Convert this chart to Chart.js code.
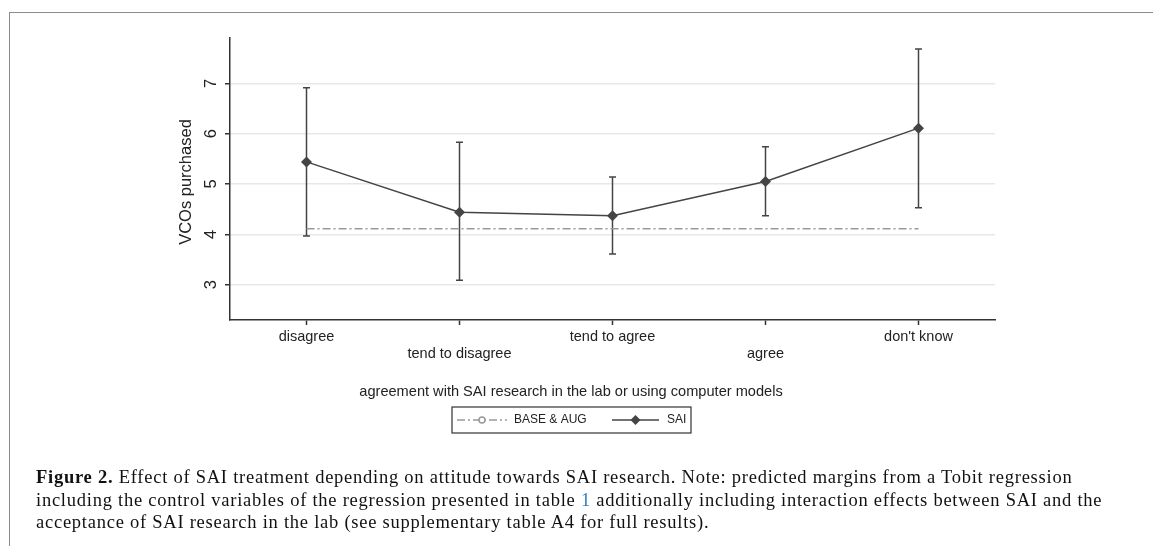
<!DOCTYPE html>
<html>
<head>
<meta charset="utf-8">
<script src="https://cdn.jsdelivr.net/npm/chart.js@4.4.0/dist/chart.umd.min.js"></script>
<style>
  html, body { margin: 0; padding: 0; background: #fff; }
  #wrap { position: relative; width: 1153px; height: 546px; overflow: hidden; }
  #frame { position: absolute; left: 9px; top: 12px; width: 1200px; height: 600px;
           border-top: 1.5px solid #8c8c8c; border-left: 1.5px solid #8c8c8c; }
  #box { position: absolute; left: 0; top: 0; width: 1153px; height: 546px; }
  #caption { position: absolute; left: 36px; top: 466px; font-family: "Liberation Serif", "Times New Roman", serif;
             font-size: 18.5px; letter-spacing: 0.75px; line-height: 22.5px; color: #111; white-space: nowrap; }
  #caption b { font-weight: bold; }
  #caption .ref { color: #2a7fc1; }
</style>
</head>
<body>
<div id="wrap">
  <div id="frame"></div>
  <div id="box"><canvas id="chart"></canvas></div>
  <div id="caption">
    <b>Figure 2.</b> Effect of SAI treatment depending on attitude towards SAI research. Note: predicted margins from a Tobit regression<br>
    including the control variables of the regression presented in table <span class="ref">1</span> additionally including interaction effects between SAI and the<br>
    acceptance of SAI research in the lab (see supplementary table A4 for full results).
  </div>
</div>
<script>
const categories = ["disagree", "tend to disagree", "tend to agree", "agree", "don't know"];
const saiValues = [5.44, 4.44, 4.37, 5.05, 6.11];
const saiLower = [3.97, 3.09, 3.61, 4.37, 4.53];
const saiUpper = [6.91, 5.83, 5.14, 5.74, 7.68];
const baseValues = [4.11, 4.11, 4.11, 4.11, 4.11];
const yTicks = [3, 4, 5, 6, 7];

const textColor = "#222";
const darkGray = "#444";

Chart.defaults.font.family = "'Liberation Sans', Arial, sans-serif";
Chart.defaults.color = textColor;

// error bars for the SAI series
const errorBars = {
    id: "errorBars",
    beforeDatasetsDraw(chart) {
        const ctx = chart.ctx;
        const y = chart.scales.y;
        const meta = chart.getDatasetMeta(1);
        ctx.save();
        ctx.strokeStyle = darkGray;
        ctx.lineWidth = 1.5;
        meta.data.forEach((pt, i) => {
            const yl = y.getPixelForValue(saiLower[i]);
            const yu = y.getPixelForValue(saiUpper[i]);
            ctx.beginPath();
            ctx.moveTo(pt.x, yl); ctx.lineTo(pt.x, yu);
            ctx.moveTo(pt.x - 3.5, yl); ctx.lineTo(pt.x + 3.5, yl);
            ctx.moveTo(pt.x - 3.5, yu); ctx.lineTo(pt.x + 3.5, yu);
            ctx.stroke();
        });
        ctx.restore();
    }
};

// rotated y labels, axis titles and the boxed legend
const extras = {
    id: "extras",
    afterDraw(chart) {
        const ctx = chart.ctx;
        const y = chart.scales.y;
        ctx.save();
        ctx.fillStyle = textColor;
        ctx.textAlign = "center";
        ctx.textBaseline = "middle";

        ctx.font = "16.5px 'Liberation Sans', Arial";
        yTicks.forEach(v => {
            ctx.save();
            ctx.translate(211, y.getPixelForValue(v));
            ctx.rotate(-Math.PI / 2);
            ctx.fillText(String(v), 0, 0);
            ctx.restore();
        });

        ctx.save();
        ctx.font = "16.5px 'Liberation Sans', Arial";
        ctx.translate(186, (chart.chartArea.top + chart.chartArea.bottom) / 2 + 3);
        ctx.rotate(-Math.PI / 2);
        ctx.fillText("VCOs purchased", 0, 0);
        ctx.restore();

        const cx = 571;
        ctx.font = "14.6px 'Liberation Sans', Arial";
        ctx.fillText("agreement with SAI research in the lab or using computer models", cx, 392);

        // legend
        ctx.strokeStyle = "#333";
        ctx.lineWidth = 1.2;
        ctx.strokeRect(cx - 119, 407, 239, 26);
        const ly = 420;
        const base = chart.data.datasets[0];
        const sai = chart.data.datasets[1];
        ctx.lineWidth = 1.5;
        ctx.strokeStyle = base.borderColor;
        ctx.setLineDash(base.borderDash);
        ctx.beginPath(); ctx.moveTo(cx - 114, ly); ctx.lineTo(cx - 64, ly); ctx.stroke();
        ctx.setLineDash([]);
        ctx.fillStyle = "#fff";
        ctx.beginPath(); ctx.arc(cx - 89, ly, 3, 0, Math.PI * 2); ctx.fill(); ctx.stroke();

        ctx.strokeStyle = sai.borderColor;
        ctx.beginPath(); ctx.moveTo(cx + 41, ly); ctx.lineTo(cx + 88, ly); ctx.stroke();
        ctx.fillStyle = sai.backgroundColor;
        ctx.beginPath();
        ctx.moveTo(cx + 64.5, ly - 5); ctx.lineTo(cx + 69.5, ly); ctx.lineTo(cx + 64.5, ly + 5); ctx.lineTo(cx + 59.5, ly);
        ctx.closePath(); ctx.fill();

        ctx.fillStyle = textColor;
        ctx.textAlign = "left";
        ctx.font = "12px 'Liberation Sans', Arial";
        ctx.fillText(base.label, cx - 57, ly);
        ctx.fillText(sai.label, cx + 96, ly);
        ctx.restore();
    }
};

new Chart(document.getElementById("chart"), {
    type: "line",
    data: {
        labels: categories,
        datasets: [
            {
                label: "BASE & AUG",
                data: baseValues,
                borderColor: "#999",
                borderWidth: 1.5,
                borderDash: [8, 3, 2, 3],
                pointRadius: 0,
                fill: false
            },
            {
                label: "SAI",
                data: saiValues,
                borderColor: darkGray,
                backgroundColor: darkGray,
                borderWidth: 1.5,
                pointStyle: "rectRot",
                pointRadius: 5.5,
                pointBorderWidth: 0,
                fill: false
            }
        ]
    },
    options: {
        responsive: true,
        maintainAspectRatio: false,
        animation: false,
        layout: { padding: { left: 0, top: 38, right: 158, bottom: 146 } },
        plugins: { legend: { display: false }, tooltip: { enabled: false } },
        scales: {
            x: {
                type: "category",
                offset: true,
                afterFit: s => { s.height = 80; },
                border: { color: "#333", width: 1.5 },
                grid: { drawOnChartArea: false, drawTicks: true, tickLength: 5, tickColor: "#333", tickWidth: 1.5, offset: false },
                ticks: {
                    autoSkip: false,
                    maxRotation: 0,
                    padding: 3,
                    color: textColor,
                    font: { size: 14.5, lineHeight: 1.2 },
                    callback: (v, i) => i % 2 === 1 ? ["", categories[i]] : categories[i]
                }
            },
            y: {
                min: 2.3,
                max: 7.9,
                afterFit: s => { s.width = 230; },
                afterBuildTicks: s => { s.ticks = yTicks.map(v => ({ value: v })); },
                border: { color: "#333", width: 1.5 },
                grid: { color: "#e8e8e8", lineWidth: 1.5, drawTicks: true, tickLength: 5, tickColor: "#333", tickWidth: 1.5 },
                ticks: { display: false }
            }
        }
    },
    plugins: [errorBars, extras]
});
</script>
</body>
</html>
